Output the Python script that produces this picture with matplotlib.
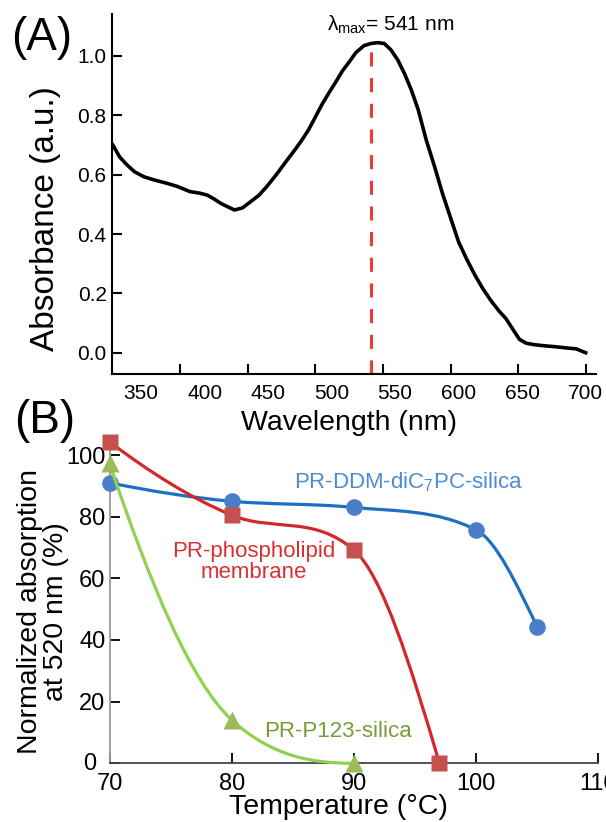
import numpy as np
import matplotlib
matplotlib.use('Agg')
import matplotlib.pyplot as plt
from matplotlib.path import Path
from matplotlib.patches import PathPatch
from matplotlib.transforms import ScaledTranslation

plt.rcParams['font.family'] = ['Liberation Sans', 'DejaVu Sans']
plt.rcParams['mathtext.fontset'] = 'custom'
plt.rcParams['mathtext.rm'] = 'Liberation Sans'
plt.rcParams['mathtext.it'] = 'Liberation Sans:italic'

# (A) absorption spectrum
wavelength = [350, 355, 360, 366, 373, 380, 390, 398, 407, 414, 420, 425, 430, 435, 440,
              446, 452, 458, 464, 471, 479, 485, 490, 495, 500, 505, 510, 515, 520, 525,
              530, 536, 541, 546, 551, 556, 561, 566, 571, 576, 582, 588, 594, 600, 606,
              612, 618, 624, 630, 636, 641, 646, 651, 656, 662, 670, 678, 686, 693, 700]
absorbance = [0.70, 0.66, 0.635, 0.61, 0.593, 0.583, 0.571, 0.560, 0.543, 0.538, 0.531, 0.518,
              0.503, 0.492, 0.481, 0.488, 0.509, 0.530, 0.560, 0.600, 0.649, 0.685, 0.717,
              0.752, 0.795, 0.838, 0.876, 0.912, 0.950, 0.980, 1.012, 1.035, 1.042, 1.045,
              1.042, 1.020, 0.986, 0.940, 0.885, 0.820, 0.717, 0.630, 0.537, 0.455, 0.373,
              0.315, 0.262, 0.215, 0.175, 0.140, 0.115, 0.080, 0.045, 0.032, 0.027, 0.023,
              0.020, 0.016, 0.013, 0.0]
peak_wl = 541
wl_ticks = [400, 450, 500, 550, 600, 650, 700]
wl_labels = ['350', '400', '450', '500', '550', '600', '650', '700']
abs_ticks = [0.0, 0.2, 0.4, 0.6, 0.8, 1.0]

# (B) normalized absorption vs temperature
temp_ddm = [70, 80, 90, 100, 105]
val_ddm = [91, 85, 83, 75.7, 44.3]
temp_lipid = [70, 80, 90, 97]
val_lipid = [104.3, 80.5, 69.2, 0]
temp_p123 = [70, 80, 90]
val_p123 = [97.3, 14.1, 0]
temp_ticks = [70, 80, 90, 100, 110]
norm_ticks = [0, 20, 40, 60, 80, 100]


def smooth_path(x, y):
    # cubic Bezier through the points (blend of monotone and Catmull-Rom tangents)
    x = np.asarray(x, float)
    y = np.asarray(y, float)
    h = np.diff(x)
    d = np.diff(y) / h
    n = len(x)
    mp = np.zeros(n)
    mc = np.zeros(n)
    for i in range(1, n - 1):
        if d[i - 1] * d[i] > 0:
            w1 = 2 * h[i] + h[i - 1]
            w2 = h[i] + 2 * h[i - 1]
            mp[i] = (w1 + w2) / (w1 / d[i - 1] + w2 / d[i])
        mc[i] = (y[i + 1] - y[i - 1]) / (x[i + 1] - x[i - 1])

    def end(h0, h1, d0, d1):
        m = ((2 * h0 + h1) * d0 - h0 * d1) / (h0 + h1)
        if np.sign(m) != np.sign(d0):
            m = 0.0
        elif np.sign(d0) != np.sign(d1) and abs(m) > 3 * abs(d0):
            m = 3 * d0
        return m

    mp[0] = mc[0] = end(h[0], h[1], d[0], d[1])
    mp[-1] = mc[-1] = end(h[-1], h[-2], d[-1], d[-2])
    m = 0.5 * (mp + mc)
    verts = [(x[0], y[0])]
    codes = [Path.MOVETO]
    for i in range(n - 1):
        verts += [(x[i] + h[i] / 3, y[i] + m[i] * h[i] / 3),
                  (x[i + 1] - h[i] / 3, y[i + 1] - m[i + 1] * h[i] / 3),
                  (x[i + 1], y[i + 1])]
        codes += [Path.CURVE4] * 3
    return Path(verts, codes)


fig = plt.figure(figsize=(6.06, 8.22), dpi=100)

# ---- panel A ----
axA = fig.add_axes([0.1853, 0.545, 0.798, 0.438])
axA.plot(wavelength, absorbance, color='black', lw=2.6, solid_joinstyle='round')
axA.plot([peak_wl, peak_wl], [-0.0718, 1.035], color='#ee3a30', lw=2.2,
         ls=(0, (4.6, 3.8)), clip_on=False)
axA.set_xlim(349.6, 707.6)
axA.set_ylim(-0.0718, 1.1416)
axA.xaxis.remove_overlapping_locs = False
axA.set_xticks(wl_ticks)
axA.set_xticklabels([''] * len(wl_ticks))
# labels in the original sit on a slightly compressed scale
lab_pos = [700 - (700 - int(s)) * 0.94 for s in wl_labels]
axA.set_xticks(lab_pos, minor=True)
axA.set_xticklabels(wl_labels, minor=True)
axA.set_yticks(abs_ticks)
axA.set_yticklabels(['%.1f' % v for v in abs_ticks])
axA.tick_params(axis='x', which='major', direction='in', length=7, width=1.5)
axA.tick_params(axis='x', which='minor', length=0, pad=7, labelsize=15)
axA.tick_params(axis='y', direction='in', length=7, width=1.5, pad=4, labelsize=15)
for s in ['top', 'right']:
    axA.spines[s].set_visible(False)
for s in ['left', 'bottom']:
    axA.spines[s].set_linewidth(1.5)
axA.text(555.5, 1.104, r'λ$_{\mathrm{max}}$= 541 nm', fontsize=15, ha='center', va='center')

fig.text(42 / 606, 1 - 38 / 822, '(A)', fontsize=33, ha='center', va='center')
fig.text(45.5 / 606, 1 - 218.7 / 822, 'Absorbance (a.u.)', fontsize=24, rotation=90,
         ha='center', va='center')
fig.text(349 / 606, 1 - 423 / 822, 'Wavelength (nm)', fontsize=20.5, ha='center', va='center')

# ---- panel B ----
axB = fig.add_axes([0.1807, 0.0714, 0.8066, 0.3938])
axB.set_xlim(70, 110)
axB.set_ylim(0, 105)

series = [
    (temp_ddm, val_ddm, '#1f6fc0', '#4a7ec8', 'o', 12),
    (temp_lipid, val_lipid, '#d2282c', '#c5504e', 's', 12),
    (temp_p123, val_p123, '#92d050', '#9bbb59', '^', 13),
]
for i, (tx, vy, lc, mc, mk, ms) in enumerate(series):
    axB.add_patch(PathPatch(smooth_path(tx, vy), fill=False, edgecolor=lc, lw=2.3,
                            capstyle='round', clip_on=False, zorder=2 + 2 * i))
    axB.plot(tx, vy, ls='none', marker=mk, ms=ms, mfc=mc, mec='none',
             clip_on=False, zorder=3 + 2 * i)

axB.text(94.48, 91.3, 'PR-DDM-diC$_7$PC-silica', color='#4d8bd4', fontsize=16,
         ha='center', va='center')
axB.text(81.79, 65.3, 'PR-phospholipid\nmembrane', color='#d8302f', fontsize=16,
         ha='center', va='center', linespacing=1.05)
axB.text(88.7, 10.25, 'PR-P123-silica', color='#7a9a38', fontsize=16,
         ha='center', va='center')

axB.set_xticks(temp_ticks)
axB.set_yticks(norm_ticks)
axB.tick_params(axis='both', direction='in', length=7, width=1.3, labelsize=17)
axB.tick_params(axis='x', pad=7)
axB.tick_params(axis='y', pad=3)
# the "0" label sits a little further left in the original
zero_lab = axB.yaxis.get_major_ticks()[0].label1
zero_lab.set_transform(zero_lab.get_transform() +
                       ScaledTranslation(-9 / 100, 2 / 100, fig.dpi_scale_trans))
for s in ['top', 'right']:
    axB.spines[s].set_visible(False)
axB.spines['left'].set_color('#9a9a9a')
axB.spines['left'].set_linewidth(1.3)
axB.spines['bottom'].set_color('#444444')
axB.spines['bottom'].set_linewidth(1.3)

fig.text(45 / 606, 1 - 421 / 822, '(B)', fontsize=33, ha='center', va='center')
fig.text(43 / 606, 1 - 612 / 822, 'Normalized absorption\nat 520 nm (%)', fontsize=20.5,
         rotation=90, ha='center', va='center', linespacing=1.0)
fig.text(338 / 606, 1 - 807 / 822, 'Temperature (°C)', fontsize=20.5, ha='center', va='center')

fig.savefig('out.png', dpi=100)
